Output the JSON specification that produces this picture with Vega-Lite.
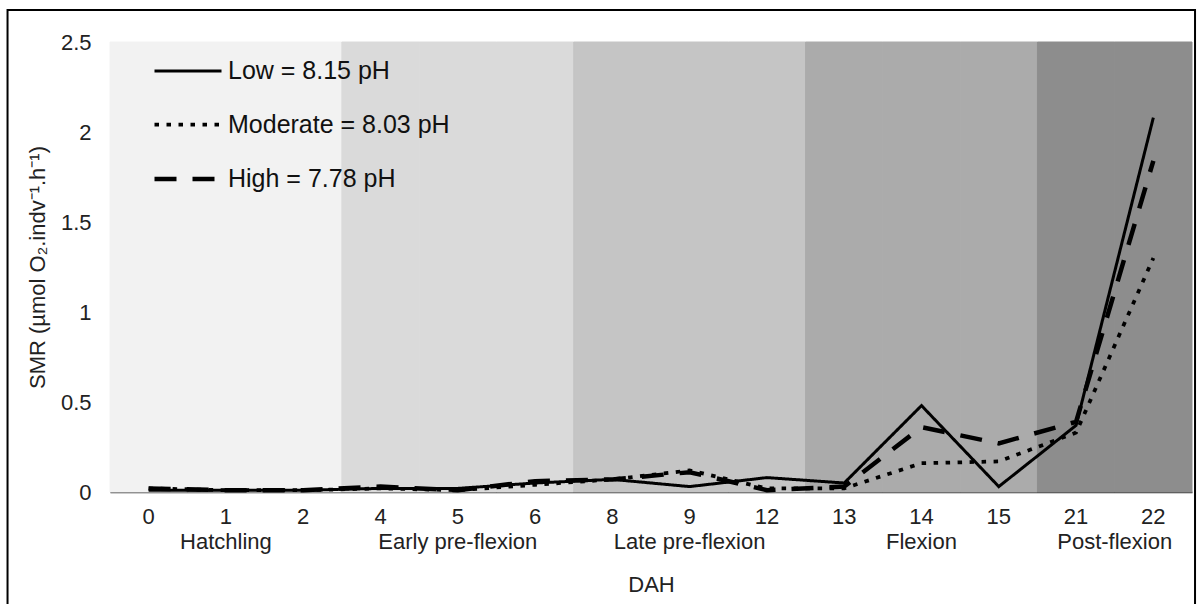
{
  "$schema": "https://vega.github.io/schema/vega-lite/v6.json",
  "width": 1082,
  "height": 450,
  "autosize": {"type": "none"},
  "padding": {"left": 110, "top": 42, "right": 11, "bottom": 112},
  "background": "white",
  "config": {
    "font": "Liberation Sans",
    "view": {"stroke": null}
  },
  "datasets": {
    "smr": [
      {"dah": 0, "level": "Low = 8.15 pH", "smr": 0.01},
      {"dah": 1, "level": "Low = 8.15 pH", "smr": 0.01},
      {"dah": 2, "level": "Low = 8.15 pH", "smr": 0.01},
      {"dah": 4, "level": "Low = 8.15 pH", "smr": 0.02},
      {"dah": 5, "level": "Low = 8.15 pH", "smr": 0.02},
      {"dah": 6, "level": "Low = 8.15 pH", "smr": 0.05},
      {"dah": 8, "level": "Low = 8.15 pH", "smr": 0.07},
      {"dah": 9, "level": "Low = 8.15 pH", "smr": 0.03},
      {"dah": 12, "level": "Low = 8.15 pH", "smr": 0.08},
      {"dah": 13, "level": "Low = 8.15 pH", "smr": 0.05},
      {"dah": 14, "level": "Low = 8.15 pH", "smr": 0.48},
      {"dah": 15, "level": "Low = 8.15 pH", "smr": 0.03},
      {"dah": 21, "level": "Low = 8.15 pH", "smr": 0.37},
      {"dah": 22, "level": "Low = 8.15 pH", "smr": 2.08},
      {"dah": 0, "level": "Moderate = 8.03 pH", "smr": 0.02},
      {"dah": 1, "level": "Moderate = 8.03 pH", "smr": 0.01},
      {"dah": 2, "level": "Moderate = 8.03 pH", "smr": 0.01},
      {"dah": 4, "level": "Moderate = 8.03 pH", "smr": 0.02},
      {"dah": 5, "level": "Moderate = 8.03 pH", "smr": 0.01},
      {"dah": 6, "level": "Moderate = 8.03 pH", "smr": 0.04},
      {"dah": 8, "level": "Moderate = 8.03 pH", "smr": 0.07},
      {"dah": 9, "level": "Moderate = 8.03 pH", "smr": 0.12},
      {"dah": 12, "level": "Moderate = 8.03 pH", "smr": 0.02},
      {"dah": 13, "level": "Moderate = 8.03 pH", "smr": 0.02},
      {"dah": 14, "level": "Moderate = 8.03 pH", "smr": 0.16},
      {"dah": 15, "level": "Moderate = 8.03 pH", "smr": 0.17},
      {"dah": 21, "level": "Moderate = 8.03 pH", "smr": 0.33},
      {"dah": 22, "level": "Moderate = 8.03 pH", "smr": 1.3},
      {"dah": 0, "level": "High = 7.78 pH", "smr": 0.02},
      {"dah": 1, "level": "High = 7.78 pH", "smr": 0.01},
      {"dah": 2, "level": "High = 7.78 pH", "smr": 0.01},
      {"dah": 4, "level": "High = 7.78 pH", "smr": 0.03},
      {"dah": 5, "level": "High = 7.78 pH", "smr": 0.01},
      {"dah": 6, "level": "High = 7.78 pH", "smr": 0.06},
      {"dah": 8, "level": "High = 7.78 pH", "smr": 0.07},
      {"dah": 9, "level": "High = 7.78 pH", "smr": 0.11},
      {"dah": 12, "level": "High = 7.78 pH", "smr": 0.01},
      {"dah": 13, "level": "High = 7.78 pH", "smr": 0.03},
      {"dah": 14, "level": "High = 7.78 pH", "smr": 0.36},
      {"dah": 15, "level": "High = 7.78 pH", "smr": 0.27},
      {"dah": 21, "level": "High = 7.78 pH", "smr": 0.39},
      {"dah": 22, "level": "High = 7.78 pH", "smr": 1.84}
    ],
    "stages": [
      {"dah": 0, "stage": "Hatchling"},
      {"dah": 1, "stage": "Hatchling"},
      {"dah": 2, "stage": "Hatchling"},
      {"dah": 4, "stage": "Early pre-flexion"},
      {"dah": 5, "stage": "Early pre-flexion"},
      {"dah": 6, "stage": "Early pre-flexion"},
      {"dah": 8, "stage": "Late pre-flexion"},
      {"dah": 9, "stage": "Late pre-flexion"},
      {"dah": 12, "stage": "Late pre-flexion"},
      {"dah": 13, "stage": "Flexion"},
      {"dah": 14, "stage": "Flexion"},
      {"dah": 15, "stage": "Flexion"},
      {"dah": 21, "stage": "Post-flexion"},
      {"dah": 22, "stage": "Post-flexion"}
    ],
    "stageNames": [
      {"dah": 1, "stage": "Hatchling"},
      {"dah": 5, "stage": "Early pre-flexion"},
      {"dah": 9, "stage": "Late pre-flexion"},
      {"dah": 14, "stage": "Flexion"}
    ],
    "postStage": [
      {"dah": 21, "stage": "Post-flexion"}
    ]
  },
  "layer": [
    {
      "data": {"values": [{}]},
      "mark": {"type": "rect", "fill": null, "stroke": "black", "strokeWidth": 2, "clip": false},
      "encoding": {
        "x": {"datum": -0.0947, "type": "quantitative", "scale": {"domain": [0, 1], "nice": false, "zero": false}, "axis": null},
        "x2": {"datum": 1.0028},
        "y": {"datum": 2.678, "type": "quantitative"},
        "y2": {"datum": -0.8}
      }
    },
    {
      "layer": [
        {
          "data": {"name": "stages"},
          "mark": {"type": "bar", "strokeWidth": 1},
          "encoding": {
            "x": {
              "field": "dah", "type": "ordinal",
              "scale": {"type": "band", "domain": [0, 1, 2, 4, 5, 6, 8, 9, 12, 13, 14, 15, 21, 22], "paddingInner": 0, "paddingOuter": 0},
              "axis": {"title": "DAH", "labelAngle": 0, "ticks": false, "grid": false, "labelFontSize": 22, "labelPadding": 14, "labelColor": "#222", "domainColor": "#333", "domainWidth": 1.5, "titleFontSize": 22, "titleFontWeight": "normal", "titleColor": "#222", "titlePadding": 47}
            },
            "y": {"datum": 2.5, "type": "quantitative"},
            "y2": {"datum": 0},
            "fill": {
              "field": "stage", "type": "nominal",
              "scale": {"domain": ["Hatchling", "Early pre-flexion", "Late pre-flexion", "Flexion", "Post-flexion"], "range": ["#f2f2f2", "#dadada", "#c5c5c5", "#ababab", "#8d8d8d"]},
              "legend": null
            },
            "stroke": {
              "field": "stage", "type": "nominal",
              "scale": {"domain": ["Hatchling", "Early pre-flexion", "Late pre-flexion", "Flexion", "Post-flexion"], "range": ["#f2f2f2", "#dadada", "#c5c5c5", "#ababab", "#8d8d8d"]},
              "legend": null
            }
          }
        },
        {
          "data": {"name": "smr"},
          "mark": {"type": "line", "color": "black"},
          "encoding": {
            "x": {
              "field": "dah", "type": "ordinal",
              "scale": {"type": "band", "domain": [0, 1, 2, 4, 5, 6, 8, 9, 12, 13, 14, 15, 21, 22], "paddingInner": 0, "paddingOuter": 0},
              "axis": {"title": "DAH", "labelAngle": 0, "ticks": false, "grid": false, "labelFontSize": 22, "labelPadding": 14, "labelColor": "#222", "domainColor": "#333", "domainWidth": 1.5, "titleFontSize": 22, "titleFontWeight": "normal", "titleColor": "#222", "titlePadding": 47}
            },
            "y": {
              "field": "smr", "type": "quantitative",
              "scale": {"domain": [0, 2.5], "nice": false, "zero": true},
              "axis": {"title": "SMR (µmol O₂.indv⁻¹.h⁻¹)", "values": [0, 0.5, 1, 1.5, 2, 2.5], "format": "~g", "ticks": false, "grid": false, "labelFontSize": 22, "labelPadding": 19, "labelColor": "#222", "domainColor": "#444", "domainWidth": 1, "titleFontSize": 22, "titleFontWeight": "normal", "titleColor": "#222", "titlePadding": 11}
            },
            "strokeDash": {
              "field": "level", "type": "nominal",
              "scale": {"domain": ["Low = 8.15 pH", "Moderate = 8.03 pH", "High = 7.78 pH"], "range": [[1, 0], [4.5, 7.5], [22, 16]]},
              "legend": {"title": null, "orient": "none", "legendX": 42, "legendY": -6, "symbolType": "stroke", "symbolSize": 4489, "symbolStrokeWidth": 4, "symbolStrokeColor": "black", "labelFontSize": 25, "labelColor": "#111", "labelOffset": 4, "rowPadding": 5, "labelLimit": 400}
            },
            "strokeWidth": {
              "field": "level", "type": "nominal",
              "scale": {"domain": ["Low = 8.15 pH", "Moderate = 8.03 pH", "High = 7.78 pH"], "range": [3, 4.5, 4.5]},
              "legend": null
            }
          }
        },
        {
          "data": {"name": "stageNames"},
          "mark": {"type": "text", "fontSize": 22, "baseline": "alphabetic", "dy": 57, "color": "#222"},
          "encoding": {
            "x": {
              "field": "dah", "type": "ordinal",
              "scale": {"type": "band", "domain": [0, 1, 2, 4, 5, 6, 8, 9, 12, 13, 14, 15, 21, 22], "paddingInner": 0, "paddingOuter": 0},
              "axis": {"title": "DAH", "labelAngle": 0, "ticks": false, "grid": false, "labelFontSize": 22, "labelPadding": 14, "labelColor": "#222", "domainColor": "#333", "domainWidth": 1.5, "titleFontSize": 22, "titleFontWeight": "normal", "titleColor": "#222", "titlePadding": 47}
            },
            "y": {"datum": 0, "type": "quantitative"},
            "text": {"field": "stage"}
          }
        },
        {
          "data": {"name": "postStage"},
          "mark": {"type": "text", "fontSize": 22, "baseline": "alphabetic", "dy": 57, "color": "#222"},
          "encoding": {
            "x": {
              "field": "dah", "type": "ordinal", "bandPosition": 1,
              "scale": {"type": "band", "domain": [0, 1, 2, 4, 5, 6, 8, 9, 12, 13, 14, 15, 21, 22], "paddingInner": 0, "paddingOuter": 0},
              "axis": {"title": "DAH", "labelAngle": 0, "ticks": false, "grid": false, "labelFontSize": 22, "labelPadding": 14, "labelColor": "#222", "domainColor": "#333", "domainWidth": 1.5, "titleFontSize": 22, "titleFontWeight": "normal", "titleColor": "#222", "titlePadding": 47}
            },
            "y": {"datum": 0, "type": "quantitative"},
            "text": {"field": "stage"}
          }
        }
      ]
    }
  ],
  "resolve": {"scale": {"x": "independent"}}
}
